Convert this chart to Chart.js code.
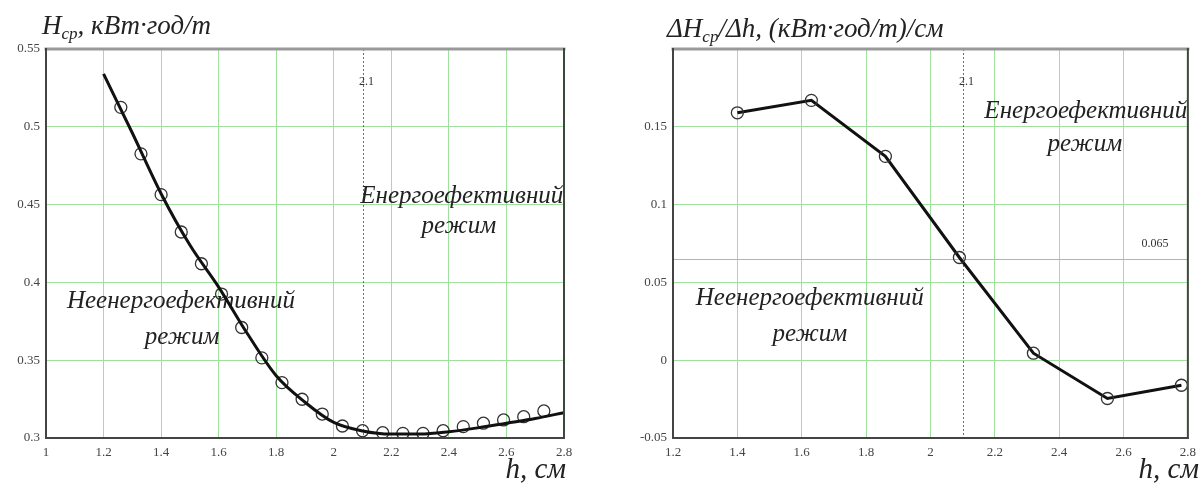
<!DOCTYPE html>
<html>
<head>
<meta charset="utf-8">
<script src="https://cdn.jsdelivr.net/npm/chart.js@4.4.1/dist/chart.umd.min.js"></script>
<style>
    body {
        margin: 0;
        width: 1203px;
        height: 488px;
        background: #ffffff;
        overflow: hidden;
        position: relative;
        font-family: "Liberation Serif", "DejaVu Serif", serif;
    }
    .box {
        position: absolute;
        top: 0;
        height: 488px;
    }
    .title {
        position: absolute;
        font-style: italic;
        font-size: 27px;
        color: #222;
        white-space: nowrap;
    }
    .title sub {
        font-size: 17px;
        vertical-align: -5px;
    }
    .axisTitle {
        position: absolute;
        font-style: italic;
        font-size: 29px;
        color: #222;
        white-space: nowrap;
    }
</style>
</head>
<body>

<div class="box" style="left:0;width:600px"><canvas id="energyChart"></canvas></div>
<div class="box" style="left:600px;width:603px"><canvas id="gradientChart"></canvas></div>

<div class="title" style="left:42px;top:10px">H<sub>ср</sub>, кВт·год/т</div>
<div class="title" style="left:667px;top:13px">ΔH<sub>ср</sub>/Δh, (кВт·год/т)/см</div>

<div class="axisTitle" style="right:637px;top:452px">h, см</div>
<div class="axisTitle" style="right:4px;top:452px">h, см</div>

<script>

/* =========================
   DATA
========================= */

// fitted curve H_cp(h)
const curveH = [1.2, 1.3, 1.4, 1.5, 1.6, 1.7, 1.8, 1.9, 2.0, 2.1, 2.2, 2.3, 2.4, 2.5, 2.6, 2.7, 2.8];
const curveHcp = [0.534, 0.496, 0.457, 0.424, 0.397, 0.367, 0.340, 0.323, 0.310, 0.3045, 0.3025, 0.3025, 0.304, 0.3065, 0.3095, 0.3125, 0.3163];

// measured points H_cp(h)
const measH = [1.26, 1.33, 1.40, 1.47, 1.54, 1.61, 1.68, 1.75, 1.82, 1.89, 1.96, 2.03, 2.10, 2.17, 2.24, 2.31, 2.38, 2.45, 2.52, 2.59, 2.66, 2.73];
const measHcp = [0.5125, 0.4826, 0.4564, 0.4324, 0.412, 0.3925, 0.371, 0.3515, 0.3356, 0.3249, 0.3154, 0.3077, 0.3047, 0.3034, 0.303, 0.303, 0.3047, 0.3073, 0.3095, 0.3116, 0.3137, 0.3174];

// gradient dH_cp/dh
const gradH = [1.40, 1.63, 1.86, 2.09, 2.32, 2.55, 2.78];
const gradVal = [0.159, 0.167, 0.131, 0.066, 0.0045, -0.0246, -0.0161];

// tick labels
const hTicksLeft = [1, 1.2, 1.4, 1.6, 1.8, 2, 2.2, 2.4, 2.6, 2.8];
const hcpTicks = [0.3, 0.35, 0.4, 0.45, 0.5, 0.55];
const hTicksRight = [1.2, 1.4, 1.6, 1.8, 2, 2.2, 2.4, 2.6, 2.8];
const gradTicks = [-0.05, 0, 0.05, 0.1, 0.15, 0.2];

// reference lines
const criticalH = 2.1;
const criticalGrad = 0.065;

/* =========================
   COMMON
========================= */

const serif = "'Liberation Serif', 'DejaVu Serif', serif";

function toPoints(xs, ys) {
    return xs.map((x, i) => ({ x: x, y: ys[i] }));
}

function fixedTicks(values) {
    return function (scale) {
        scale.ticks = values.map(v => ({ value: v }));
    };
}

function makeScale(min, max, ticks, size, isX, hideLast) {
    return {
        type: "linear",
        min: min,
        max: max,
        afterBuildTicks: fixedTicks(ticks),
        afterFit: function (scale) {
            if (isX) scale.height = size;
            else scale.width = size;
        },
        border: { display: false },
        grid: {
            color: "#9fe09f",
            lineWidth: 1,
            drawTicks: false
        },
        ticks: {
            autoSkip: false,
            maxRotation: 0,
            padding: isX ? 7 : 6,
            color: "#444",
            font: { family: serif, size: 13 },
            callback: function (value) {
                if (hideLast && value === max) return "";
                return String(value);
            }
        }
    };
}

/* =========================
   PLUGIN: frame, lines, text
========================= */

const decorPlugin = {
    id: "decor",
    beforeDatasetsDraw(chart, args, opts) {
        const ctx = chart.ctx;
        const area = chart.chartArea;
        const xs = chart.scales.x;
        const ys = chart.scales.y;

        ctx.save();
        ctx.beginPath();
        ctx.rect(area.left, area.top, area.right - area.left, area.bottom - area.top);
        ctx.clip();

        // red reference lines
        const px = Math.round(xs.getPixelForValue(criticalH)) + 0.5;
        ctx.strokeStyle = "#ee3355";
        ctx.lineWidth = 1;
        ctx.setLineDash([2, 2]);
        ctx.beginPath();
        ctx.moveTo(px, area.top);
        ctx.lineTo(px, area.bottom);
        ctx.stroke();
        ctx.setLineDash([]);

        if (opts.showGradLine) {
            const py = Math.round(ys.getPixelForValue(criticalGrad)) + 0.5;
            ctx.strokeStyle = "#f29a9a";
            ctx.beginPath();
            ctx.moveTo(area.left, py);
            ctx.lineTo(area.right, py);
            ctx.stroke();

            ctx.fillStyle = "#333";
            ctx.font = "12px " + serif;
            ctx.textAlign = "center";
            ctx.textBaseline = "middle";
            ctx.fillText("0.065", area.right - 33, py - 16);
        }

        ctx.fillStyle = "#333";
        ctx.font = "12px " + serif;
        ctx.textAlign = "center";
        ctx.textBaseline = "middle";
        ctx.fillText("2.1", px + 3, area.top + 33);

        // region labels
        ctx.fillStyle = "#222";
        ctx.font = "italic 25px " + serif;
        opts.labels.forEach(l => {
            ctx.fillText(
                l.text,
                xs.getPixelForValue(l.x),
                ys.getPixelForValue(l.y)
            );
        });

        ctx.restore();
    },
    afterDraw(chart) {
        const ctx = chart.ctx;
        const a = chart.chartArea;

        ctx.save();
        ctx.lineCap = "square";

        // top border
        ctx.strokeStyle = "#999";
        ctx.lineWidth = 3;
        ctx.beginPath();
        ctx.moveTo(a.left, a.top);
        ctx.lineTo(a.right, a.top);
        ctx.stroke();

        // right border
        ctx.strokeStyle = "#3c4a3c";
        ctx.lineWidth = 2;
        ctx.beginPath();
        ctx.moveTo(a.right, a.top);
        ctx.lineTo(a.right, a.bottom);
        ctx.stroke();

        // left and bottom axes
        ctx.strokeStyle = "#444";
        ctx.lineWidth = 2;
        ctx.beginPath();
        ctx.moveTo(a.left, a.top);
        ctx.lineTo(a.left, a.bottom);
        ctx.lineTo(a.right, a.bottom);
        ctx.stroke();

        ctx.restore();
    }
};

/* =========================
   ENERGY CHART
========================= */

function renderEnergyChart() {

    const ctx = document.getElementById("energyChart");

    new Chart(ctx, {
        type: "line",
        data: {
            datasets: [
                {
                    data: toPoints(curveH, curveHcp),
                    borderColor: "#111",
                    borderWidth: 3,
                    pointRadius: 0,
                    cubicInterpolationMode: "monotone",
                    fill: false
                },
                {
                    data: toPoints(measH, measHcp),
                    showLine: false,
                    pointRadius: 6,
                    pointBorderWidth: 1.3,
                    pointBorderColor: "#333",
                    pointBackgroundColor: "rgba(0,0,0,0)"
                }
            ]
        },
        options: {
            responsive: true,
            maintainAspectRatio: false,
            animation: false,
            layout: { padding: { left: 0, right: 36, top: 49, bottom: 0 } },
            plugins: {
                legend: { display: false },
                tooltip: { enabled: false },
                decor: {
                    showGradLine: false,
                    labels: [
                        { text: "Енергоефективний", x: 2.445, y: 0.455 },
                        { text: "режим", x: 2.435, y: 0.4358 },
                        { text: "Неенергоефективний", x: 1.469, y: 0.3875 },
                        { text: "режим", x: 1.473, y: 0.3644 }
                    ]
                }
            },
            scales: {
                x: makeScale(1, 2.8, hTicksLeft, 50, true, false),
                y: makeScale(0.3, 0.55, hcpTicks, 46, false, false)
            }
        },
        plugins: [decorPlugin]
    });

}

/* =========================
   GRADIENT CHART
========================= */

function renderGradientChart() {

    const ctx = document.getElementById("gradientChart");

    new Chart(ctx, {
        type: "line",
        data: {
            datasets: [
                {
                    data: toPoints(gradH, gradVal),
                    borderColor: "#111",
                    borderWidth: 3,
                    tension: 0,
                    pointRadius: 6,
                    pointBorderWidth: 1.3,
                    pointBorderColor: "#333",
                    pointBackgroundColor: "rgba(0,0,0,0)",
                    fill: false
                }
            ]
        },
        options: {
            responsive: true,
            maintainAspectRatio: false,
            animation: false,
            layout: { padding: { left: 0, right: 10, top: 49, bottom: 0 } },
            plugins: {
                legend: { display: false },
                tooltip: { enabled: false },
                decor: {
                    showGradLine: true,
                    labels: [
                        { text: "Енергоефективний", x: 2.483, y: 0.160 },
                        { text: "режим", x: 2.48, y: 0.1389 },
                        { text: "Неенергоефективний", x: 1.625, y: 0.0397 },
                        { text: "режим", x: 1.625, y: 0.0165 }
                    ]
                }
            },
            scales: {
                x: makeScale(1.2, 2.8, hTicksRight, 50, true, false),
                y: makeScale(-0.05, 0.2, gradTicks, 73, false, true)
            }
        },
        plugins: [decorPlugin]
    });

}

renderEnergyChart();
renderGradientChart();

</script>
</body>
</html>
